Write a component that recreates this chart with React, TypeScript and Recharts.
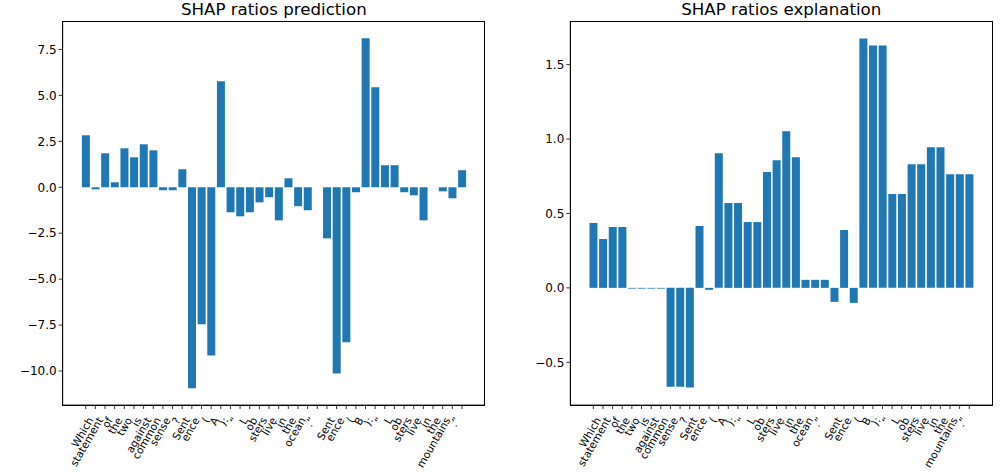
import React from "react";
import { BarChart, Bar, XAxis, YAxis } from "recharts";

const tokens = [
  "", "Which", "statement", "of", "the", "two", "is", "against", "common", "sense",
  "?", "Sent", "ence", "(", "A", "):", " \u201c", "L", "ob", "sters",
  "live", "in", "the", "ocean", ".\u201d", "", "Sent", "ence", "(", "B",
  "):", " \u201c", "L", "ob", "sters", "live", "in", "the", "mountains", ".\u201d",
];

const predictionValues = [
  2.83, -0.11, 1.85, 0.27, 2.12, 1.63, 2.34, 2.01, -0.16, -0.16,
  0.98, -10.94, -7.46, -9.15, 5.77, -1.36, -1.58, -1.36, -0.82, -0.54,
  -1.8, 0.49, -1.03, -1.25, 0, -2.78, -10.13, -8.44, -0.27, 8.11,
  5.44, 1.2, 1.2, -0.27, -0.44, -1.8, 0, -0.22, -0.6, 0.93,
];

const explanationValues = [
  0.436, 0.328, 0.409, 0.409, -0.005, -0.005, -0.005, -0.005, -0.664, -0.664,
  -0.67, 0.416, -0.013, 0.905, 0.57, 0.57, 0.442, 0.442, 0.778, 0.858,
  1.053, 0.878, 0.054, 0.054, 0.054, -0.094, 0.389, -0.101, 1.676, 1.629,
  1.629, 0.63, 0.63, 0.831, 0.831, 0.945, 0.945, 0.764, 0.764, 0.764,
];

const predictionTicks = [-10, -7.5, -5, -2.5, 0, 2.5, 5, 7.5];
const explanationTicks = [-0.5, 0, 0.5, 1, 1.5];

const FONT = "'DejaVu Sans', sans-serif";
const BLUE = "#1f77b4";
const CHART_H = 474;
const Y_AXIS_W = 50;
const X_AXIS_H = 69;

const fmt = (v: number) => {
  const s = Math.abs(v).toFixed(1);
  return v < 0 ? "\u2212" + s : s;
};

function TokenTick(props: any) {
  const { x, y, payload } = props;
  const label = tokens[payload.value] ?? "";
  const ex = x - 1.5;
  const ey = y + 11;
  return (
    <text
      x={ex}
      y={ey}
      textAnchor="end"
      transform={`rotate(-60, ${ex}, ${ey})`}
      fontSize={10.6}
      fontFamily={FONT}
      fill="#000"
      style={{ whiteSpace: "pre" }}
    >
      {label}
    </text>
  );
}

function ShapPanel({
  title,
  values,
  ticks,
  domain,
  left,
  width,
  margin,
}: {
  title: string;
  values: number[];
  ticks: number[];
  domain: [number, number];
  left: number;
  width: number;
  margin: { top: number; right: number; bottom: number; left: number };
}) {
  const data = values.map((v, i) => ({ i, v }));
  const plotLeft = margin.left + Y_AXIS_W;
  const plotWidth = width - plotLeft - margin.right;
  const plotHeight = CHART_H - margin.top - margin.bottom - X_AXIS_H;
  return (
    <div style={{ position: "absolute", left, top: 0, width, height: CHART_H }}>
      <div
        style={{
          position: "absolute",
          left: plotLeft,
          width: plotWidth,
          top: 0,
          textAlign: "center",
          fontFamily: FONT,
          fontSize: 16.67,
          lineHeight: "19px",
          color: "#000",
        }}
      >
        {title}
      </div>
      <BarChart
        width={width}
        height={CHART_H}
        data={data}
        margin={margin}
        barCategoryGap="10%"
      >
        <XAxis
          dataKey="i"
          type="category"
          interval={0}
          padding={{ left: 18.2, right: 18.2 }}
          height={X_AXIS_H}
          tickSize={4}
          tickMargin={0}
          tickLine={{ stroke: "#000", strokeWidth: 0.8 }}
          axisLine={{ stroke: "#000", strokeWidth: 0.8 }}
          tick={<TokenTick />}
        />
        <YAxis
          type="number"
          domain={domain}
          ticks={ticks}
          allowDataOverflow
          width={Y_AXIS_W}
          tickSize={4}
          tickMargin={2}
          tickFormatter={fmt}
          tick={{ fontSize: 12, fontFamily: FONT, fill: "#000" }}
          tickLine={{ stroke: "#000", strokeWidth: 0.8 }}
          axisLine={{ stroke: "#000", strokeWidth: 0.8 }}
        />
        <Bar dataKey="v" fill={BLUE} isAnimationActive={false} />
      </BarChart>
      {/* frame: matplotlib draws all four spines */}
      <div
        style={{
          position: "absolute",
          boxSizing: "border-box",
          left: plotLeft - 0.5,
          top: margin.top - 0.5,
          width: plotWidth + 1,
          height: plotHeight + 1,
          border: "1px solid #000",
          pointerEvents: "none",
        }}
      />
    </div>
  );
}

export default function App() {
  return (
    <div
      style={{
        position: "absolute",
        left: 0,
        top: 0,
        width: 1002,
        height: CHART_H,
        background: "#fff",
      }}
    >
      <ShapPanel
        title="SHAP ratios prediction"
        values={predictionValues}
        ticks={predictionTicks}
        domain={[-11.85, 9.05]}
        left={0}
        width={500}
        margin={{ top: 21, right: 15, bottom: 0, left: 12.7 }}
      />
      <ShapPanel
        title="SHAP ratios explanation"
        values={explanationValues}
        ticks={explanationTicks}
        domain={[-0.787, 1.793]}
        left={500}
        width={502}
        margin={{ top: 21, right: 9.7, bottom: 0, left: 20.3 }}
      />
    </div>
  );
}
